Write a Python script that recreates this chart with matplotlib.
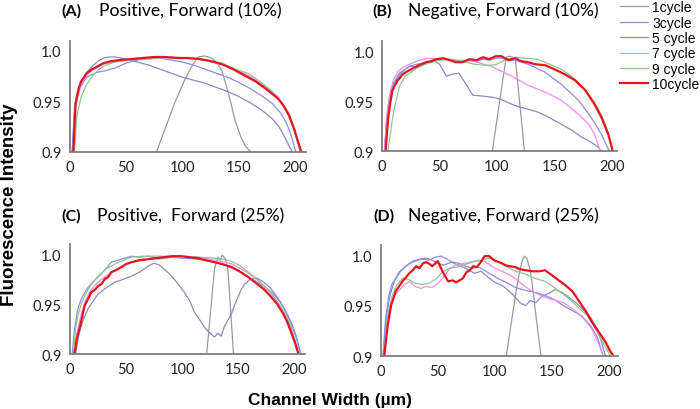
import numpy as np
import matplotlib.pyplot as plt

plt.rcParams['font.family'] = ['Lato', 'DejaVu Sans']

labels = ["1cycle", "3cycle", "5 cycle", "7 cycle", "9 cycle", "10cycle"]
colors = ["#9a9a9a", "#8a8ac4", "#8c8cf2", "#f08cf0", "#8fc88f", "#e8141c"]
widths = [0.9, 0.9, 0.9, 0.9, 0.9, 1.6]

# ---- (A) Positive, Forward (10%) ----
a1_x = [77, 84, 93, 102, 108, 114, 120, 126, 131, 135, 138, 141, 144, 147, 152, 156, 161]
a1_y = [0.9, 0.921, 0.948, 0.971, 0.984, 0.994, 0.995, 0.993, 0.988, 0.981, 0.970, 0.958, 0.945, 0.931, 0.915, 0.906, 0.9]
a3_x = [2, 4, 7, 10, 15, 20, 25, 30, 35, 40, 50, 60, 70, 80, 90, 100, 110, 120, 130, 140, 150, 160, 170, 180, 186, 191, 195, 198]
a3_y = [0.9, 0.945, 0.962, 0.970, 0.979, 0.985, 0.990, 0.993, 0.994, 0.994, 0.992, 0.989, 0.986, 0.982, 0.978, 0.974, 0.971, 0.968,
        0.964, 0.960, 0.955, 0.949, 0.942, 0.933, 0.925, 0.915, 0.906, 0.9]
a5_x = [2, 4, 7, 10, 15, 20, 25, 30, 40, 50, 60, 70, 80, 90, 100, 110, 120, 130, 140, 150, 160, 170, 180, 188, 193, 197, 201]
a5_y = [0.9, 0.94, 0.958, 0.966, 0.974, 0.977, 0.979, 0.980, 0.983, 0.988, 0.991, 0.992, 0.993, 0.991, 0.989, 0.986, 0.982,
        0.978, 0.974, 0.969, 0.963, 0.956, 0.948, 0.938, 0.928, 0.916, 0.9]
a7_x = [3, 5, 10, 15, 20, 30, 45, 60, 80, 100, 120, 140, 160, 175, 185, 195, 200, 205]
a7_y = [0.9, 0.945, 0.968, 0.977, 0.981, 0.987, 0.990, 0.992, 0.993, 0.993, 0.991, 0.985, 0.975, 0.964, 0.955, 0.938, 0.923, 0.9]
a9_x = [4, 6, 10, 15, 20, 25, 30, 40, 50, 60, 75, 90, 105, 120, 135, 150, 160, 170, 180, 190, 197, 202, 205]
a9_y = [0.9, 0.935, 0.955, 0.967, 0.975, 0.981, 0.985, 0.989, 0.991, 0.992, 0.993, 0.994, 0.993, 0.991, 0.988, 0.981, 0.977,
        0.969, 0.960, 0.946, 0.930, 0.912, 0.9]
a10_x = [3, 5, 8, 10, 15, 20, 25, 30, 37, 45, 55, 65, 75, 85, 95, 105, 115, 125, 135, 145, 155, 165, 175, 185, 190, 195, 200, 203, 206]
a10_y = [0.9, 0.948, 0.964, 0.970, 0.978, 0.982, 0.985, 0.988, 0.990, 0.991, 0.992, 0.993, 0.994, 0.994, 0.993, 0.993, 0.992,
         0.990, 0.987, 0.982, 0.976, 0.970, 0.962, 0.953, 0.946, 0.936, 0.921, 0.91, 0.9]

# ---- (B) Negative, Forward (10%) ----
b1_x = [96, 108, 111, 116, 124]
b1_y = [0.9, 0.994, 0.995, 0.993, 0.9]
b3_x = [2, 4, 7, 10, 15, 20, 24, 30, 35, 40, 44, 50, 56, 61, 67, 73, 79, 88, 96, 103, 113, 120, 127, 136, 145, 156, 165, 174,
        182, 188, 191]
b3_y = [0.9, 0.935, 0.958, 0.968, 0.978, 0.982, 0.985, 0.984, 0.986, 0.989, 0.991, 0.987, 0.975, 0.977, 0.978, 0.967, 0.956,
        0.955, 0.954, 0.952, 0.947, 0.944, 0.942, 0.939, 0.934, 0.927, 0.921, 0.914, 0.909, 0.904, 0.9]
b5_x = [2, 4, 7, 10, 15, 20, 24, 30, 38, 45, 53, 60, 65, 70, 76, 82, 88, 94, 99, 105, 110, 116, 127, 142, 156, 171, 182, 191,
        195, 198]
b5_y = [0.9, 0.93, 0.955, 0.966, 0.976, 0.982, 0.985, 0.987, 0.988, 0.990, 0.993, 0.991, 0.990, 0.989, 0.991, 0.990, 0.992,
        0.991, 0.993, 0.993, 0.991, 0.991, 0.987, 0.979, 0.967, 0.951, 0.934, 0.917, 0.907, 0.9]
b7_x = [2, 4, 7, 10, 14, 20, 26, 32, 40, 50, 60, 70, 80, 88, 95, 100, 113, 127, 142, 156, 171, 180, 185, 190]
b7_y = [0.9, 0.935, 0.96, 0.972, 0.980, 0.985, 0.988, 0.991, 0.993, 0.992, 0.991, 0.991, 0.990, 0.987, 0.985, 0.982, 0.975,
        0.966, 0.959, 0.951, 0.937, 0.927, 0.917, 0.9]
b9_x = [5, 8, 10, 15, 20, 30, 40, 50, 60, 70, 80, 88, 95, 100, 108, 116, 125, 135, 142, 150, 156, 165, 175, 185, 192, 197, 201]
b9_y = [0.9, 0.925, 0.94, 0.965, 0.975, 0.983, 0.988, 0.991, 0.992, 0.990, 0.987, 0.986, 0.986, 0.987, 0.992, 0.994, 0.993,
        0.992, 0.989, 0.985, 0.982, 0.975, 0.964, 0.949, 0.934, 0.918, 0.9]
b10_x = [3, 5, 7, 9, 13, 18, 22, 27, 32, 38, 43, 47, 53, 59, 64, 70, 76, 82, 88, 93, 99, 104, 110, 116, 121, 127, 133, 142,
         150, 159, 168, 177, 185, 191, 197, 201]
b10_y = [0.9, 0.931, 0.948, 0.961, 0.970, 0.977, 0.980, 0.983, 0.986, 0.989, 0.990, 0.992, 0.993, 0.991, 0.989, 0.989, 0.992,
         0.991, 0.994, 0.992, 0.995, 0.995, 0.991, 0.993, 0.990, 0.989, 0.987, 0.986, 0.982, 0.977, 0.971, 0.961, 0.947,
         0.934, 0.917, 0.9]

# ---- (C) Positive, Forward (25%) ----
c1_x = [122, 129, 132, 134, 136, 139, 141, 146]
c1_y = [0.9, 0.985, 0.997, 0.994, 0.999, 0.995, 0.985, 0.9]
c3_x = [5, 8, 12, 16, 20, 25, 32, 40, 48, 55, 62, 70, 75, 80, 84, 89, 93, 98, 102, 107, 111, 116, 120, 123, 126, 129, 132,
        135, 138, 141, 144, 147, 150, 153, 156, 161, 167, 173, 179, 185, 191, 197, 202, 206]
c3_y = [0.9, 0.92, 0.935, 0.945, 0.952, 0.96, 0.966, 0.972, 0.975, 0.978, 0.982, 0.988, 0.991, 0.989, 0.985, 0.980, 0.975,
        0.968, 0.962, 0.953, 0.942, 0.934, 0.927, 0.923, 0.920, 0.917, 0.921, 0.918, 0.928, 0.934, 0.940, 0.949, 0.957,
        0.965, 0.970, 0.975, 0.976, 0.972, 0.966, 0.957, 0.946, 0.932, 0.917, 0.9]
c5_x = [2, 4, 7, 10, 15, 20, 25, 31, 37, 43, 49, 55, 62, 70, 80, 90, 100, 114, 129, 144, 158, 173, 180, 188, 194, 200, 203, 206]
c5_y = [0.9, 0.925, 0.945, 0.955, 0.965, 0.972, 0.977, 0.984, 0.992, 0.994, 0.996, 0.998, 0.997, 0.998, 0.995, 0.997, 0.996,
        0.995, 0.992, 0.988, 0.978, 0.968, 0.962, 0.952, 0.940, 0.925, 0.913, 0.9]
c7_x = [4, 6, 9, 13, 18, 25, 32, 40, 48, 55, 65, 80, 100, 115, 130, 145, 158, 170, 180, 190, 197, 204]
c7_y = [0.9, 0.92, 0.935, 0.952, 0.963, 0.972, 0.978, 0.984, 0.989, 0.992, 0.994, 0.996, 0.998, 0.997, 0.994, 0.990, 0.982,
        0.972, 0.961, 0.944, 0.928, 0.9]
c9_x = [3, 5, 7, 10, 13, 18, 25, 32, 40, 48, 55, 65, 80, 100, 115, 129, 137, 144, 151, 158, 165, 173, 180, 188, 193, 197, 201, 204]
c9_y = [0.9, 0.925, 0.938, 0.95, 0.958, 0.968, 0.978, 0.985, 0.990, 0.994, 0.997, 0.998, 0.998, 0.998, 0.997, 0.996, 0.995,
        0.993, 0.989, 0.983, 0.977, 0.968, 0.960, 0.948, 0.938, 0.928, 0.914, 0.9]
c10_x = [4, 6, 9, 13, 16, 19, 22, 25, 28, 31, 34, 37, 41, 46, 50, 55, 62, 70, 77, 84, 92, 99, 106, 114, 121, 129, 136, 144,
         151, 158, 165, 173, 179, 185, 190, 194, 198, 201, 204]
c10_y = [0.9, 0.915, 0.928, 0.948, 0.955, 0.962, 0.964, 0.968, 0.970, 0.975, 0.977, 0.982, 0.984, 0.987, 0.990, 0.992, 0.994,
         0.995, 0.996, 0.997, 0.998, 0.998, 0.997, 0.996, 0.994, 0.992, 0.990, 0.987, 0.983, 0.978, 0.972, 0.965, 0.958,
         0.950, 0.941, 0.932, 0.920, 0.911, 0.9]

# ---- (D) Negative, Forward (25%) ----
d1_x = [110, 114, 118, 121, 124, 126, 128, 131, 134, 137, 140.5]
d1_y = [0.9, 0.93, 0.96, 0.98, 0.995, 0.999, 0.997, 0.985, 0.96, 0.93, 0.9]
d3_x = [2, 5, 8, 12, 16, 22, 28, 34, 40, 45, 50, 55, 62, 70, 76, 82, 88, 94, 100, 106, 112, 118, 123, 127, 131, 136, 141,
        147, 153, 159, 165, 172, 178, 184, 190, 194, 197]
d3_y = [0.9, 0.94, 0.96, 0.975, 0.983, 0.989, 0.994, 0.996, 0.997, 0.995, 0.992, 0.990, 0.993, 0.989, 0.986, 0.982, 0.984,
        0.978, 0.973, 0.970, 0.965, 0.958, 0.952, 0.950, 0.955, 0.953, 0.959, 0.962, 0.966, 0.963, 0.958, 0.952, 0.945,
        0.938, 0.926, 0.912, 0.9]
d5_x = [2, 4, 7, 10, 14, 18, 24, 30, 36, 42, 48, 53, 58, 63, 68, 74, 80, 86, 92, 98, 104, 110, 118, 127, 136, 144, 152, 160,
        168, 176, 184, 190, 195]
d5_y = [0.9, 0.935, 0.96, 0.972, 0.978, 0.985, 0.991, 0.994, 0.996, 0.995, 0.998, 0.999, 0.996, 0.993, 0.992, 0.989, 0.987,
        0.988, 0.984, 0.980, 0.976, 0.973, 0.968, 0.965, 0.963, 0.960, 0.956, 0.950, 0.945, 0.940, 0.930, 0.918, 0.9]
d7_x = [3, 5, 8, 12, 16, 20, 25, 30, 35, 40, 45, 50, 55, 60, 65, 70, 78, 85, 92, 100, 108, 115, 122, 130, 140, 150, 160, 170,
        178, 185, 190, 195]
d7_y = [0.9, 0.93, 0.948, 0.96, 0.965, 0.970, 0.974, 0.969, 0.967, 0.969, 0.968, 0.972, 0.978, 0.986, 0.990, 0.991, 0.993,
        0.995, 0.993, 0.987, 0.983, 0.979, 0.973, 0.966, 0.960, 0.956, 0.953, 0.945, 0.937, 0.927, 0.915, 0.9]
d9_x = [3, 6, 10, 14, 19, 24, 30, 36, 42, 48, 54, 60, 66, 72, 80, 88, 95, 100, 108, 118, 125, 135, 144, 152, 159, 167, 174,
        181, 188, 194, 198, 201]
d9_y = [0.9, 0.94, 0.96, 0.97, 0.977, 0.976, 0.972, 0.971, 0.972, 0.976, 0.983, 0.987, 0.988, 0.990, 0.993, 0.995, 0.997,
        0.995, 0.990, 0.984, 0.982, 0.977, 0.974, 0.968, 0.962, 0.955, 0.947, 0.940, 0.927, 0.915, 0.907, 0.9]
d10_x = [3, 6, 9, 13, 19, 25, 28, 31, 34, 37, 40, 43, 45, 48, 50, 54, 57, 59, 63, 66, 69, 72, 75, 78, 81, 84, 87, 91, 95, 98,
         101, 106, 109, 113, 118, 122, 127, 133, 139, 144, 150, 156, 162, 168, 174, 180, 185, 191, 197, 201, 204]
d10_y = [0.9, 0.93, 0.95, 0.964, 0.974, 0.982, 0.985, 0.989, 0.987, 0.992, 0.993, 0.991, 0.989, 0.992, 0.994, 0.984, 0.978,
         0.974, 0.975, 0.973, 0.975, 0.977, 0.983, 0.985, 0.989, 0.988, 0.992, 0.999, 0.999, 0.996, 0.994, 0.992, 0.990,
         0.989, 0.988, 0.986, 0.985, 0.984, 0.984, 0.985, 0.980, 0.975, 0.970, 0.964, 0.954, 0.944, 0.934, 0.924, 0.914,
         0.905, 0.9]

panels = [
    ("(A)", "Positive, Forward (10%)",
     [(a1_x, a1_y), (a3_x, a3_y), (a5_x, a5_y), (a7_x, a7_y), (a9_x, a9_y), (a10_x, a10_y)]),
    ("(B)", "Negative, Forward (10%)",
     [(b1_x, b1_y), (b3_x, b3_y), (b5_x, b5_y), (b7_x, b7_y), (b9_x, b9_y), (b10_x, b10_y)]),
    ("(C)", "Positive,  Forward (25%)",
     [(c1_x, c1_y), (c3_x, c3_y), (c5_x, c5_y), (c7_x, c7_y), (c9_x, c9_y), (c10_x, c10_y)]),
    ("(D)", "Negative, Forward (25%)",
     [(d1_x, d1_y), (d3_x, d3_y), (d5_x, d5_y), (d7_x, d7_y), (d9_x, d9_y), (d10_x, d10_y)]),
]

# axes boxes [left, bottom, width, height] in figure fractions
boxes = [[0.100, 0.627, 0.337, 0.271],
         [0.546, 0.629, 0.336, 0.268],
         [0.100, 0.134, 0.336, 0.268],
         [0.544, 0.129, 0.339, 0.271]]
xmax = [210, 205, 210, 208]
title_pos = [(61, 99, 11), (372, 408, 11), (61, 97, 216), (373, 408, 216)]

fig = plt.figure(figsize=(7, 4.1), dpi=100)

for k, (tag, title, series) in enumerate(panels):
    ax = fig.add_axes(boxes[k])
    for (xs, ys), c, lw, lab in zip(series, colors, widths, labels):
        ax.plot(xs, ys, color=c, lw=lw, label=lab)
    ax.set_xlim(0, xmax[k])
    ax.set_ylim(0.9, 1.01)
    ax.set_xticks([0, 50, 100, 150, 200])
    ax.set_yticks([0.9, 0.95, 1.0])
    ax.set_yticklabels(["0.9", "0.95", "1.0"])
    for s in ["top", "right"]:
        ax.spines[s].set_visible(False)
    for s in ["left", "bottom"]:
        ax.spines[s].set_color("#7f7f7f")
        ax.spines[s].set_linewidth(1.3)
    ax.tick_params(length=0, labelsize=10.5, pad=6, colors="#222222")
    tx, ttx, ty = title_pos[k]
    fig.text(tx / 700, 1 - ty / 410, tag, fontsize=11.5, fontweight="bold", va="center", ha="left")
    fig.text(ttx / 700, 1 - ty / 410, title, fontsize=12.6, va="center", ha="left")
    if k == 1:
        handles, labs = ax.get_legend_handles_labels()

fig.legend(handles, labs, loc="upper left", bbox_to_anchor=(620 / 700, 0.997), frameon=False,
           handlelength=2.0, handletextpad=0.3, labelspacing=0.1, borderaxespad=0.0, borderpad=0.0,
           prop={"family": "Liberation Sans", "size": 10})

fig.text(0.013, 0.5, "Fluorescence Intensity", rotation=90, fontsize=13.5, fontweight="bold",
         family="Liberation Sans", va="center", ha="center")
fig.text(0.472, 0.022, "Channel Width (\u00b5m)", fontsize=12.5, fontweight="bold",
         family="Liberation Sans", va="center", ha="center")

fig.savefig("out.png", dpi=100)
